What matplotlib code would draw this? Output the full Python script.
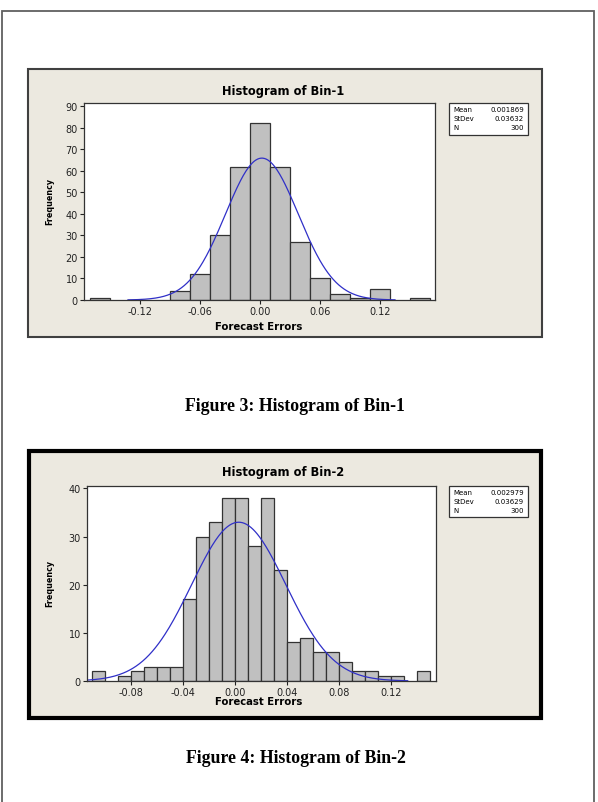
import numpy as np
import matplotlib
matplotlib.use("Agg")
import matplotlib.pyplot as plt
from matplotlib.patches import Rectangle

# Bin-1 histogram (bin width 0.02, centres)
bin1_centers = [-0.16, -0.08, -0.06, -0.04, -0.02, 0.00, 0.02, 0.04, 0.06, 0.08, 0.10, 0.12, 0.16]
bin1_counts = [1, 4, 12, 30, 62, 82, 62, 27, 10, 3, 1, 5, 1]
bin1_width = 0.02
bin1_stats = {"Mean": "0.001869", "StDev": "0.03632", "N": "300"}
bin1_mean, bin1_sd, bin1_n = 0.001869, 0.03632, 300
bin1_xticks = [-0.12, -0.06, 0.00, 0.06, 0.12]
bin1_yticks = [0, 10, 20, 30, 40, 50, 60, 70, 80, 90]

# Bin-2 histogram (bin width 0.01, left edges)
bin2_lefts = [-0.11, -0.09, -0.08, -0.07, -0.06, -0.05, -0.04, -0.03, -0.02, -0.01,
              0.00, 0.01, 0.02, 0.03, 0.04, 0.05, 0.06, 0.07, 0.08, 0.09, 0.10, 0.11, 0.12, 0.14]
bin2_counts = [2, 1, 2, 3, 3, 3, 17, 30, 33, 38, 38, 28, 38, 23, 8, 9, 6, 6, 4, 2, 2, 1, 1, 2]
bin2_width = 0.01
bin2_stats = {"Mean": "0.002979", "StDev": "0.03629", "N": "300"}
bin2_mean, bin2_sd, bin2_n = 0.002979, 0.03629, 300
bin2_xticks = [-0.08, -0.04, 0.00, 0.04, 0.08, 0.12]
bin2_yticks = [0, 10, 20, 30, 40]

W, H = 598, 803
fig = plt.figure(figsize=(W / 100, H / 100), dpi=100)


def fx(px):
    return px / W


def fy(py):
    return 1 - py / H


def box(x0, y0, x1, y1, z=-10, **kw):
    fig.patches.append(Rectangle((fx(x0), fy(y1)), fx(x1) - fx(x0), fy(y0) - fy(y1),
                                 transform=fig.transFigure, zorder=z, **kw))


def axes_px(x0, y0, x1, y1):
    return fig.add_axes([fx(x0), fy(y1), fx(x1) - fx(x0), fy(y0) - fy(y1)])


# page frame
box(2, 12, 594, 830, z=-20, facecolor="white", edgecolor="#606060", linewidth=1.3)

# panels
box(28, 70, 542, 338, facecolor="#ECE9E0", edgecolor="#404040", linewidth=1.5)
box(29, 452, 541, 719, facecolor="#ECE9E0", edgecolor="black", linewidth=3)

blue = "#3030C8"
bar_kw = dict(color="#C0C0C0", edgecolor="#333333", linewidth=0.9)


def style_axes(ax):
    ax.set_facecolor("white")
    for s in ax.spines.values():
        s.set_color("#333333")
        s.set_linewidth(0.9)
    ax.tick_params(direction="out", length=3, width=0.8, labelsize=7, pad=1.5,
                   colors="#222222")


# ---- chart 1 ----
ax1 = axes_px(84, 104, 435, 301)
ax1.bar(bin1_centers, bin1_counts, width=bin1_width, align="center", **bar_kw)
x = np.linspace(-0.132, 0.135, 300)
ax1.plot(x, bin1_n * bin1_width * np.exp(-0.5 * ((x - bin1_mean) / bin1_sd) ** 2)
         / (bin1_sd * np.sqrt(2 * np.pi)), color=blue, linewidth=0.9)
ax1.set_xlim(-0.176, 0.175)
ax1.set_ylim(0, 91.5)
ax1.set_xticks(bin1_xticks)
ax1.set_xticklabels([f"{t:.2f}" for t in bin1_xticks])
ax1.set_yticks(bin1_yticks)
style_axes(ax1)

fig.text(fx(283), fy(91), "Histogram of Bin-1", ha="center", va="center",
         fontsize=8.3, fontweight="bold")
fig.text(fx(259), fy(327), "Forecast Errors", ha="center", va="center",
         fontsize=7.3, fontweight="bold")
fig.text(fx(50), fy(201), "Frequency", ha="center", va="center", rotation=90,
         fontsize=5.8, fontweight="bold")

# ---- chart 2 ----
ax2 = axes_px(87, 487, 436, 682)
ax2.bar(bin2_lefts, bin2_counts, width=bin2_width, align="edge", **bar_kw)
x = np.linspace(-0.114, 0.133, 300)
ax2.plot(x, bin2_n * bin2_width * np.exp(-0.5 * ((x - bin2_mean) / bin2_sd) ** 2)
         / (bin2_sd * np.sqrt(2 * np.pi)), color=blue, linewidth=0.9)
ax2.set_xlim(-0.1138, 0.1548)
ax2.set_ylim(0, 40.5)
ax2.set_xticks(bin2_xticks)
ax2.set_xticklabels([f"{t:.2f}" for t in bin2_xticks])
ax2.set_yticks(bin2_yticks)
style_axes(ax2)

fig.text(fx(283), fy(473), "Histogram of Bin-2", ha="center", va="center",
         fontsize=8.3, fontweight="bold")
fig.text(fx(259), fy(702), "Forecast Errors", ha="center", va="center",
         fontsize=7.3, fontweight="bold")
fig.text(fx(50), fy(583), "Frequency", ha="center", va="center", rotation=90,
         fontsize=5.8, fontweight="bold")

# stats boxes
for stats, top, bot in [(bin1_stats, 104, 136), (bin2_stats, 487, 518)]:
    box(449, top, 528, bot, z=1, facecolor="white", edgecolor="#333333", linewidth=0.9)
    for i, (k, v) in enumerate(stats.items()):
        yy = top + 6 + i * 9
        fig.text(fx(453), fy(yy), k, ha="left", va="center", fontsize=5)
        fig.text(fx(524), fy(yy), v, ha="right", va="center", fontsize=5)

# captions
fig.text(fx(295), fy(411), "Figure 3: Histogram of Bin-1", ha="center", va="baseline",
         fontsize=12.8, fontweight="bold", family="Liberation Serif")
fig.text(fx(296), fy(763), "Figure 4: Histogram of Bin-2", ha="center", va="baseline",
         fontsize=12.8, fontweight="bold", family="Liberation Serif")

fig.savefig("out.png", dpi=100)
